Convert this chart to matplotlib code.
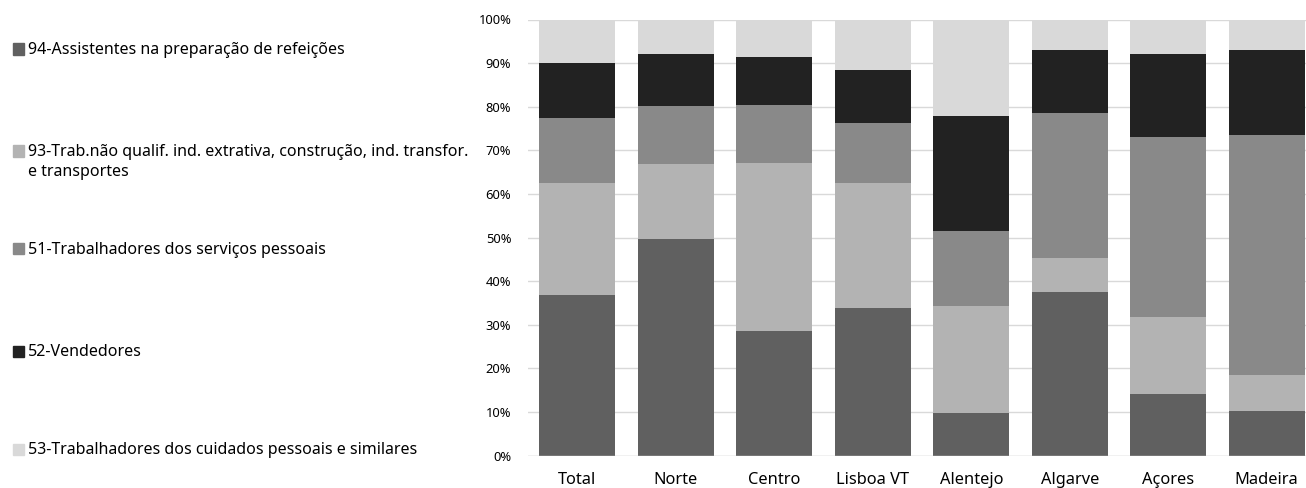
import matplotlib
matplotlib.use('Agg')
import matplotlib.pyplot as plt
from matplotlib.patches import Rectangle
from matplotlib.ticker import PercentFormatter
import numpy as np

plt.rcParams['font.family'] = ['Noto Sans', 'DejaVu Sans']

# regiões
regioes = ['Total', 'Norte', 'Centro', 'Lisboa VT', 'Alentejo', 'Algarve', 'Açores', 'Madeira']

# percentagens (de baixo para cima)
s94 = [36.9, 49.7, 28.6, 33.9, 9.9, 37.6, 14.2, 10.3]
s93 = [25.7, 17.2, 38.5, 28.6, 24.5, 7.8, 17.7, 8.2]
s51 = [14.9, 13.2, 13.4, 13.7, 17.2, 33.1, 41.1, 55.1]
s52 = [12.6, 11.9, 10.9, 12.2, 26.3, 14.5, 19.0, 19.4]
s53 = [9.9, 8.0, 8.6, 11.6, 22.1, 7.0, 8.0, 7.0]

nomes = ['94-Assistentes na preparação de refeições',
         '93-Trab.não qualif. ind. extrativa, construção, ind. transfor.\ne transportes',
         '51-Trabalhadores dos serviços pessoais',
         '52-Vendedores',
         '53-Trabalhadores dos cuidados pessoais e similares']
cores = ['#606060', '#b3b3b3', '#898989', '#222222', '#d9d9d9']

fig = plt.figure(figsize=(13.06, 4.88), dpi=100)
W, H = 1306, 488
ax = fig.add_axes([528 / W, 1 - 455.7 / H, (1306 - 528) / W, (455.7 - 19.5) / H])

x = np.arange(len(regioes))
base = np.zeros(len(regioes))
for vals, cor in zip([s94, s93, s51, s52, s53], cores):
    ax.bar(x, vals, bottom=base, width=0.77, color=cor, zorder=2)
    base = base + np.array(vals)

ax.set_ylim(0, 100)
ax.set_xlim(-0.5, 7.5 - 10 / 98.5)
ax.set_yticks(np.arange(0, 101, 10))
ax.yaxis.set_major_formatter(PercentFormatter(decimals=0))
ax.set_xticks(x)
ax.set_xticklabels(regioes, fontsize=11.8, color='#000000')
ax.tick_params(axis='y', labelsize=9.3, length=0, pad=12)
ax.tick_params(axis='x', length=0, pad=12)
ax.grid(axis='y', color='#d9d9d9', linewidth=1, zorder=0)
for s in ax.spines.values():
    s.set_visible(False)
ax.axhline(0, color='#d9d9d9', linewidth=1, zorder=3)

# legenda à esquerda
ys = [49, 151, 249, 351, 449]
for nome, cor, yc in zip(nomes, cores, ys):
    fig.add_artist(Rectangle((13 / W, 1 - (yc + 5.5) / H), 11 / W, 11 / H,
                             transform=fig.transFigure, color=cor))
    fig.text(28 / W, 1 - (yc - 7) / H, nome, fontsize=11.5, va='top', ha='left',
             linespacing=1.3)

fig.savefig('out.png', dpi=100)
